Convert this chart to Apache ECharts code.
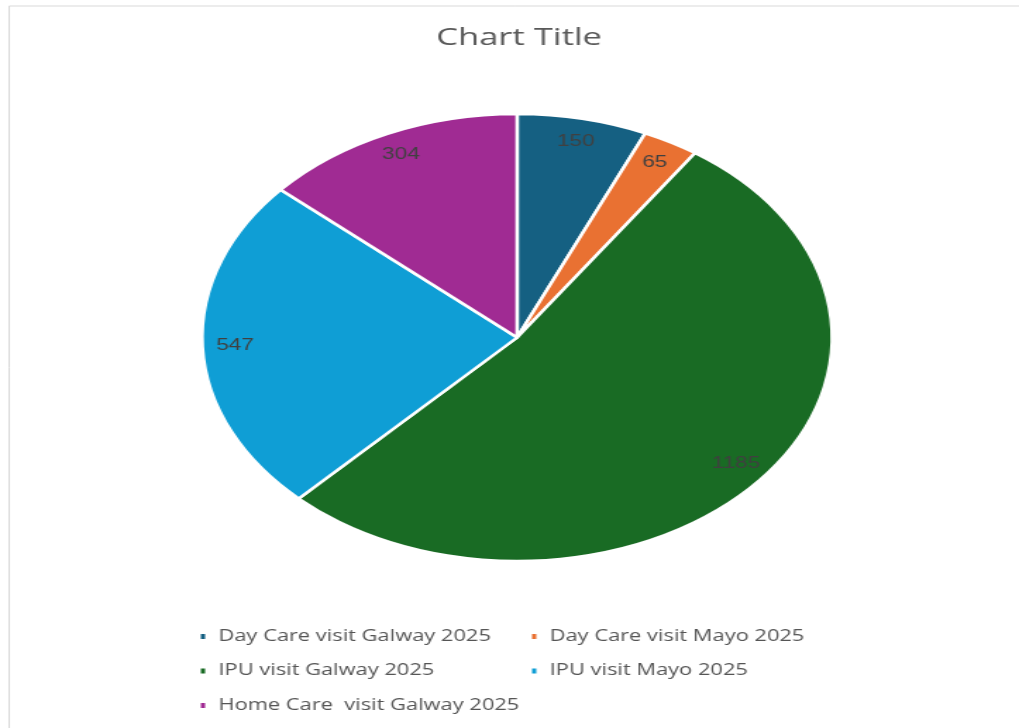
<!DOCTYPE html>
<html>
<head>
<meta charset="utf-8">
<title>Chart Title</title>
<script src="https://cdn.jsdelivr.net/npm/echarts@6/dist/echarts.min.js"></script>
<style>
  html, body { margin: 0; padding: 0; background: #ffffff; overflow: hidden; }
  /* The chart is laid out narrow and widened to fill the window. */
  #chart {
    width: 723px;
    height: 728px;
    transform: scaleX(1.4094);
    transform-origin: 0 0;
  }
</style>
</head>
<body>
<div id="chart"></div>
<script>
// Visit counts per service and site
const categories = [
  'Day Care visit Galway 2025',
  'Day Care visit Mayo 2025',
  'IPU visit Galway 2025',
  'IPU visit Mayo 2025',
  'Home Care  visit Galway 2025'
];
const visits = [150, 65, 1185, 547, 304];
const sliceColors = ['#156082', '#E97132', '#196B24', '#0F9ED5', '#A02B93'];

const titleText = 'Chart Title';

const pieData = categories.map((name, i) => ({
  name: name,
  value: visits[i],
  itemStyle: { color: sliceColors[i] }
}));

// Legend: two columns, three rows
const legendSlots = [
  { left: 140.5, top: 626.5 },
  { left: 375.5, top: 626.5 },
  { left: 140.5, top: 661 },
  { left: 375.5, top: 661 },
  { left: 140.5, top: 695.5 }
];

const legends = categories.map((name, i) => ({
  data: [name],
  left: legendSlots[i].left,
  top: legendSlots[i].top,
  orient: 'horizontal',
  padding: 0,
  icon: 'rect',
  itemWidth: 5,
  itemHeight: 7,
  selectedMode: false,
  textStyle: {
    color: '#555555',
    fontFamily: 'Open Sans',
    fontWeight: 500,
    fontSize: 15.5,
    lineHeight: 20,
    padding: [0, 0, 0, 3.5]
  }
}));

const chart = echarts.init(document.getElementById('chart'), null, { renderer: 'canvas' });

chart.setOption({
  backgroundColor: '#ffffff',
  animation: false,
  graphic: [
    {
      type: 'rect',
      left: 4,
      top: 3.5,
      shape: { x: 0, y: 0, width: 900, height: 900 },
      style: { fill: 'none', stroke: '#d9d9d9', lineWidth: 1 },
      silent: true
    },
    {
      type: 'text',
      x: 368.3,
      y: 38.5,
      style: {
        text: titleText,
        fill: '#595959',
        font: '500 24.5px "Open Sans"',
        textAlign: 'center',
        textVerticalAlign: 'middle'
      },
      silent: true
    }
  ],
  legend: legends,
  series: [
    {
      name: 'Visits',
      type: 'pie',
      center: [366.9, 337.5],
      radius: [0, 223.5],
      startAngle: 90,
      clockwise: true,
      avoidLabelOverlap: false,
      label: { show: false },
      labelLine: { show: false },
      itemStyle: { borderColor: '#ffffff', borderWidth: 2.5 },
      emphasis: { disabled: true },
      data: pieData
    },
    {
      // value labels sit near the outer edge of each slice
      name: 'Labels',
      type: 'pie',
      center: [366.9, 337.5],
      radius: [171, 223.5],
      startAngle: 90,
      clockwise: true,
      silent: true,
      legendHoverLink: false,
      avoidLabelOverlap: false,
      itemStyle: { color: 'rgba(0,0,0,0)', borderWidth: 0 },
      label: {
        show: true,
        position: 'inside',
        formatter: '{c}',
        color: '#404040',
        fontFamily: 'Liberation Sans',
        fontSize: 16,
        textBorderWidth: 0
      },
      labelLine: { show: false },
      emphasis: { disabled: true },
      data: categories.map((name, i) => ({ name: name, value: visits[i] }))
    }
  ]
});
</script>
</body>
</html>
